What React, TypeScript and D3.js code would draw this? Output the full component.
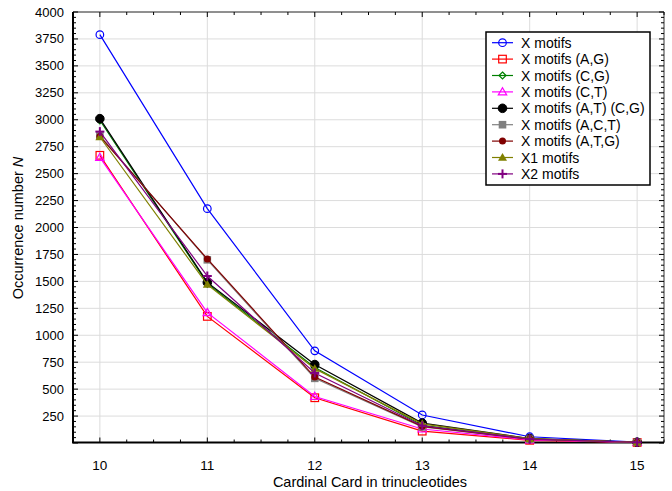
import React from "react";
import * as d3 from "d3";

const xValues = [10, 11, 12, 13, 14, 15];
const seriesNames = [
  "X motifs",
  "X motifs (A,G)",
  "X motifs (C,G)",
  "X motifs (C,T)",
  "X motifs (A,T) (C,G)",
  "X motifs (A,C,T)",
  "X motifs (A,T,G)",
  "X1 motifs",
  "X2 motifs",
];
const sX = [3790, 2175, 855, 260, 58, 8];
const sAG = [2670, 1175, 420, 110, 25, 5];
const sCG = [2995, 1480, 700, 165, 38, 6];
const sCT = [2650, 1210, 432, 130, 28, 5];
const sATCG = [3010, 1490, 728, 185, 42, 7];
const sACT = [2855, 1700, 600, 150, 35, 6];
const sATG = [2845, 1708, 612, 155, 36, 7];
const sX1 = [2840, 1470, 690, 178, 40, 6];
const sX2 = [2890, 1550, 650, 160, 37, 6];
const seriesValues = [sX, sAG, sCG, sCT, sATCG, sACT, sATG, sX1, sX2];
const colors = ["#0000ff", "#ff0000", "#008000", "#ff00ff", "#000000", "#808080", "#800000", "#808000", "#800080"];
const markers = ["circleOpen", "squareOpen", "diamondOpen", "triangleOpen", "circle", "square", "circleSmall", "triangle", "plus"];
const yTicks = d3.range(250, 4001, 250);
const xTicks = [10, 11, 12, 13, 14, 15];

const W = 672, H = 491;
const L = 73, R = 664, T = 12, B = 442.5;
const x = d3.scaleLinear().domain([9.75, 15.25]).range([L, R]);
const y = d3.scaleLinear().domain([0, 4000]).range([443, T]);

function Marker({ type, cx, cy, color }: { type: string; cx: number; cy: number; color: string }) {
  switch (type) {
    case "circleOpen":
      return <circle cx={cx} cy={cy} r={3.8} fill="none" stroke={color} strokeWidth={1.2} />;
    case "squareOpen":
      return <rect x={cx - 3.8} y={cy - 3.8} width={7.6} height={7.6} fill="none" stroke={color} strokeWidth={1.2} />;
    case "diamondOpen":
      return <path d={`M${cx},${cy - 3.5}L${cx + 3.5},${cy}L${cx},${cy + 3.5}L${cx - 3.5},${cy}Z`} fill="none" stroke={color} strokeWidth={1.2} />;
    case "triangleOpen":
      return <path d={`M${cx},${cy - 4.2}L${cx + 4.2},${cy + 3}L${cx - 4.2},${cy + 3}Z`} fill="none" stroke={color} strokeWidth={1.2} />;
    case "circle":
      return <circle cx={cx} cy={cy} r={4.3} fill={color} stroke={color} />;
    case "square":
      return <rect x={cx - 3.8} y={cy - 3.8} width={7.6} height={7.6} fill={color} />;
    case "circleSmall":
      return <circle cx={cx} cy={cy} r={3.5} fill={color} />;
    case "triangle":
      return <path d={`M${cx},${cy - 4.5}L${cx + 4.5},${cy + 3.2}L${cx - 4.5},${cy + 3.2}Z`} fill={color} />;
    case "plus":
      return (
        <g stroke={color} strokeWidth={2}>
          <line x1={cx - 4.5} y1={cy} x2={cx + 4.5} y2={cy} />
          <line x1={cx} y1={cy - 4.5} x2={cx} y2={cy + 4.5} />
        </g>
      );
  }
  return null;
}

export default function App() {
  const line = d3
    .line<number>()
    .x((_, i) => x(xValues[i]))
    .y((d) => y(d));
  const xMinor = d3.range(9.75, 15.26, 0.25);
  const yMinor = d3.range(0, 4001, 50);
  const font = "Liberation Sans, Arial, sans-serif";
  const legX = 486, legY = 32, legW = 164, legH = 153;
  return (
    <svg width={W} height={H} style={{ position: "absolute", left: 0, top: 0, background: "#fff" }} fontFamily={font}>
      <rect width={W} height={H} fill="#fff" />
      {/* grid */}
      {yTicks.map((t) => (
        <line key={"gy" + t} x1={L} x2={R} y1={y(t)} y2={y(t)} stroke="#dcdcdc" strokeWidth={1} />
      ))}
      {xTicks.map((t) => (
        <line key={"gx" + t} x1={x(t)} x2={x(t)} y1={T} y2={B} stroke="#dcdcdc" strokeWidth={1} />
      ))}
      {/* frame top/right */}
      <line x1={L} x2={R} y1={T} y2={T} stroke="#333" strokeWidth={1} />
      <line x1={R} x2={R} y1={T} y2={B} stroke="#333" strokeWidth={1} />
      {/* minor ticks */}
      {xMinor.map((t) => (
        <g key={"xm" + t}>
          <line x1={x(t)} x2={x(t)} y1={B} y2={B - (Number.isInteger(t) ? 5 : 3)} stroke="#000" />
          <line x1={x(t)} x2={x(t)} y1={T} y2={T + (Number.isInteger(t) ? 5 : 3)} stroke="#000" />
        </g>
      ))}
      {yMinor.map((t) => (
        <g key={"ym" + t}>
          <line x1={L} x2={L + (t % 250 === 0 ? 5 : 3)} y1={y(t)} y2={y(t)} stroke="#000" />
          <line x1={R} x2={R - (t % 250 === 0 ? 5 : 3)} y1={y(t)} y2={y(t)} stroke="#000" />
        </g>
      ))}
      {/* axes */}
      <line x1={L} x2={L} y1={T} y2={B} stroke="#000" strokeWidth={2} />
      <line x1={L - 1} x2={R} y1={B} y2={B} stroke="#000" strokeWidth={2} />
      {/* tick labels */}
      {yTicks.map((t) => (
        <text key={"yl" + t} x={64} y={y(t) + 4.5} textAnchor="end" fontSize={13} fill="#000">
          {t}
        </text>
      ))}
      {xTicks.map((t) => (
        <text key={"xl" + t} x={x(t)} y={470} textAnchor="middle" fontSize={13.5} fill="#000">
          {t}
        </text>
      ))}
      <text x={370} y={487} textAnchor="middle" fontSize={14.5}>
        Cardinal Card in trinucleotides
      </text>
      <text transform={`translate(23,228) rotate(-90)`} textAnchor="middle" fontSize={14.5}>
        Occurrence number <tspan fontStyle="italic">N</tspan>
      </text>
      {/* series */}
      <g>
        {seriesValues.map((vals, si) => (
          <g key={"s" + si}>
            <path d={line(vals) || ""} fill="none" stroke={colors[si]} strokeWidth={1.2} />
            {vals.map((v, i) => (
              <Marker key={i} type={markers[si]} cx={x(xValues[i])} cy={y(v)} color={colors[si]} />
            ))}
          </g>
        ))}
      </g>
      {/* legend */}
      <rect x={legX} y={legY} width={legW} height={legH} fill="#fff" stroke="#000" strokeWidth={1.5} />
      {seriesNames.map((n, i) => {
        const cy = 42.7 + i * 16.4;
        return (
          <g key={"lg" + i}>
            <line x1={492} x2={513} y1={cy} y2={cy} stroke={colors[i]} strokeWidth={1.2} />
            <Marker type={markers[i]} cx={502.5} cy={cy} color={colors[i]} />
            <text x={521} y={cy + 5} fontSize={14}>
              {n}
            </text>
          </g>
        );
      })}
    </svg>
  );
}
